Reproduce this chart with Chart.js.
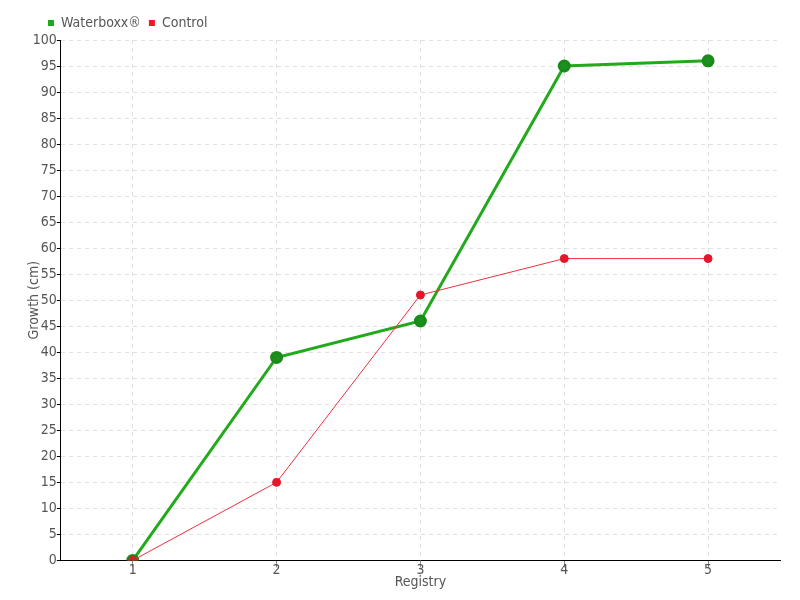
<!DOCTYPE html>
<html>
<head>
<meta charset="utf-8">
<script src="https://cdn.jsdelivr.net/npm/chart.js@4"></script>
<style>
  html, body { margin: 0; padding: 0; background: #fff; }
  #wrap { width: 800px; height: 600px; }
</style>
</head>
<body>
<div id="wrap"><canvas id="chart"></canvas></div>
<script>
// === data ===
const registries = ["1", "2", "3", "4", "5"];
const waterboxx = [0, 39, 46, 95, 96];
const control = [0, 15, 51, 58, 58];

const fontFamily = "'Liberation Sans Narrow', 'DejaVu Sans Condensed', sans-serif";
Chart.defaults.font.family = fontFamily;
Chart.defaults.color = "#555";

// shift the legend so it starts near the y axis, as in the original
const legendShift = {
  id: "legendShift",
  afterLayout(chart) {
    chart.legend.left += 24;
  },
};

new Chart(document.getElementById("chart"), {
  type: "line",
  data: {
    labels: registries,
    datasets: [
      {
        label: "Waterboxx®",
        data: waterboxx,
        borderColor: "#22aa1c",
        backgroundColor: "#1e8e1e",
        pointBorderColor: "#1a8a1a",
        borderWidth: 3,
        pointRadius: 5,
        pointHoverRadius: 5,
        tension: 0,
        order: 1,
      },
      {
        label: "Control",
        data: control,
        borderColor: "#f0303f",
        backgroundColor: "#e3172b",
        pointBorderColor: "#e3172b",
        borderWidth: 1,
        pointRadius: 4,
        pointHoverRadius: 4,
        tension: 0,
        order: 0,
      },
    ],
  },
  plugins: [legendShift],
  options: {
    responsive: true,
    maintainAspectRatio: false,
    animation: false,
    layout: { padding: { top: 8, right: 20, left: 16, bottom: 9 } },
    plugins: {
      legend: {
        align: "start",
        labels: {
          boxWidth: 6,
          boxHeight: 6,
          padding: 8,
          color: "#555",
          font: { size: 14 },
          generateLabels: (chart) =>
            chart.data.datasets.map((ds, i) => ({
              text: ds.label,
              fillStyle: i === 0 ? "#1ea81e" : "#f0162a",
              strokeStyle: i === 0 ? "#1ea81e" : "#f0162a",
              fontColor: "#555",
              lineWidth: 0,
              datasetIndex: i,
            })),
        },
      },
      tooltip: { enabled: false },
    },
    scales: {
      x: {
        offset: true,
        grid: { color: "#e2e2e2", tickColor: "#888", tickLength: 7, offset: false },
        border: { color: "#000", width: 1, dash: [4, 4] },
        ticks: { font: { size: 14 }, color: "#555", padding: -5 },
        title: { display: true, text: "Registry", font: { size: 14 }, color: "#555", padding: { top: 0, bottom: 0 } },
      },
      y: {
        min: 0,
        max: 100,
        grid: { color: "#e2e2e2", tickColor: "#000", tickLength: 4 },
        border: { color: "#000", width: 1, dash: [4, 4] },
        ticks: { stepSize: 5, font: { size: 14 }, color: "#555", padding: 0 },
        title: { display: true, text: "Growth (cm)", font: { size: 14 }, color: "#555", padding: { top: 10, bottom: -10 } },
      },
    },
  },
});
</script>
</body>
</html>
